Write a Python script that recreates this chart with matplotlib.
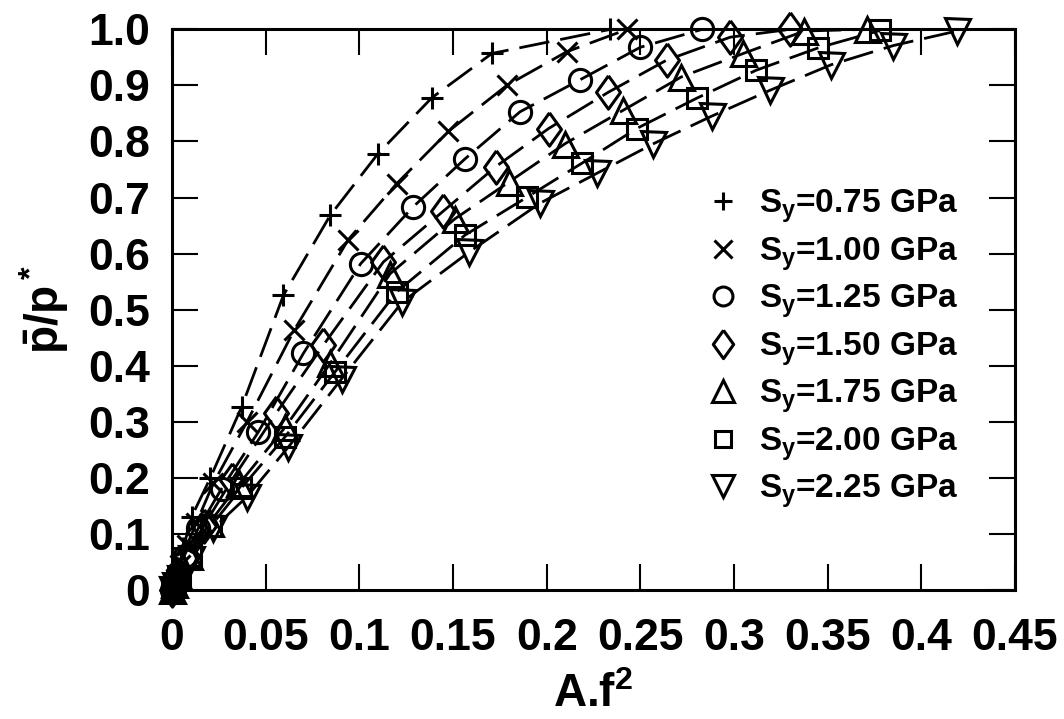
import matplotlib
matplotlib.use("Agg")
import matplotlib.pyplot as plt

plt.rcParams['font.family'] = ['Liberation Sans Narrow', 'Liberation Sans', 'DejaVu Sans']
plt.rcParams['font.weight'] = 'bold'
plt.rcParams['axes.labelweight'] = 'bold'
plt.rcParams['mathtext.fontset'] = 'custom'
plt.rcParams['mathtext.rm'] = 'Liberation Sans:bold'
plt.rcParams['mathtext.bf'] = 'Liberation Sans:bold'
plt.rcParams['mathtext.it'] = 'Liberation Sans:bold'
plt.rcParams['mathtext.default'] = 'bf'

# A.f^2 and p/p* for each yield strength
x_075 = [0, 0.0005, 0.0015, 0.003, 0.006, 0.0105, 0.0203, 0.0372, 0.0595, 0.0844, 0.1099, 0.1387, 0.1708, 0.234]
y_075 = [0, 0.008, 0.02, 0.04, 0.075, 0.131, 0.199, 0.327, 0.526, 0.668, 0.778, 0.878, 0.957, 1.0]

x_100 = [0, 0.0008, 0.002, 0.004, 0.008, 0.013, 0.022, 0.040, 0.0651, 0.0941, 0.120, 0.1475, 0.1787, 0.2107, 0.243]
y_100 = [0, 0.008, 0.02, 0.045, 0.08, 0.12, 0.19, 0.30, 0.463, 0.625, 0.725, 0.818, 0.900, 0.960, 1.0]

x_125 = [0, 0.001, 0.003, 0.007, 0.014, 0.0265, 0.0461, 0.0701, 0.1007, 0.1289, 0.1564, 0.1858, 0.2178, 0.250, 0.283]
y_125 = [0, 0.01, 0.03, 0.06, 0.11, 0.181, 0.282, 0.422, 0.582, 0.684, 0.769, 0.853, 0.910, 0.968, 1.0]

x_150 = [0, 0.001, 0.003, 0.008, 0.017, 0.0319, 0.0555, 0.0808, 0.1128, 0.1449, 0.1728, 0.201, 0.233, 0.264, 0.298, 0.330]
y_150 = [0, 0.01, 0.025, 0.06, 0.115, 0.196, 0.315, 0.437, 0.585, 0.676, 0.755, 0.823, 0.888, 0.945, 0.986, 1.0]

x_175 = [0, 0.001, 0.003, 0.009, 0.020, 0.036, 0.0603, 0.0844, 0.1164, 0.151, 0.180, 0.2098, 0.241, 0.2718, 0.305, 0.3376, 0.371]
y_175 = [0, 0.01, 0.025, 0.06, 0.12, 0.19, 0.29, 0.404, 0.564, 0.662, 0.728, 0.796, 0.856, 0.915, 0.957, 0.997, 1.0]

x_200 = [0, 0.0015, 0.004, 0.010, 0.021, 0.037, 0.0603, 0.087, 0.120, 0.1564, 0.1897, 0.2187, 0.248, 0.280, 0.3118, 0.345, 0.378]
y_200 = [0, 0.01, 0.025, 0.06, 0.115, 0.182, 0.273, 0.389, 0.532, 0.633, 0.701, 0.761, 0.823, 0.877, 0.927, 0.967, 0.998]

x_225 = [0, 0.0015, 0.004, 0.010, 0.022, 0.0399, 0.0621, 0.0906, 0.123, 0.1587, 0.1965, 0.2267, 0.257, 0.288, 0.319, 0.352, 0.385, 0.419]
y_225 = [0, 0.008, 0.02, 0.055, 0.11, 0.166, 0.255, 0.377, 0.514, 0.603, 0.690, 0.743, 0.796, 0.845, 0.891, 0.937, 0.971, 0.997]

labels = ['0.75', '1.00', '1.25', '1.50', '1.75', '2.00', '2.25']
diamond = [(0, 1), (0.72, 0), (0, -1), (-0.72, 0), (0, 1)]
markers = ['+', 'x', 'o', diamond, '^', 's', 'v']
msizes = [16, 15, 16, 24, 18, 14, 18]
xs = [x_075, x_100, x_125, x_150, x_175, x_200, x_225]
ys = [y_075, y_100, y_125, y_150, y_175, y_200, y_225]

xticks = [0, 0.05, 0.1, 0.15, 0.2, 0.25, 0.3, 0.35, 0.4, 0.45]
xticklabels = ['0', '0.05', '0.1', '0.15', '0.2', '0.25', '0.3', '0.35', '0.4', '0.45']
yticks = [0, 0.1, 0.2, 0.3, 0.4, 0.5, 0.6, 0.7, 0.8, 0.9, 1.0]
yticklabels = ['0', '0.1', '0.2', '0.3', '0.4', '0.5', '0.6', '0.7', '0.8', '0.9', '1.0']

fig = plt.figure(figsize=(10.64, 7.19), dpi=100)
ax = fig.add_axes([0.1617, 0.1794, 0.9539 - 0.1617, 0.9592 - 0.1794])

for x, y, m, ms, lab in zip(xs, ys, markers, msizes, labels):
    ax.plot(x, y, color='black', lw=2.0, ls=(0, (11, 4)), clip_on=False)
    ax.plot(x, y, ls='none', marker=m, ms=ms, mfc='none', mec='black', mew=2.2,
            clip_on=False, label='S$_y$=' + lab + ' GPa')

ax.set_xlim(0, 0.45)
ax.set_ylim(0, 1.0)
ax.set_xticks(xticks)
ax.set_xticklabels(xticklabels)
ax.set_yticks(yticks)
ax.set_yticklabels(yticklabels)
ax.tick_params(direction='in', length=19, width=1.5, top=True, right=True, labelsize=32)
ax.tick_params(axis='x', pad=20)
ax.tick_params(axis='y', pad=16)
for sp in ax.spines.values():
    sp.set_linewidth(2.2)

ax.set_xlabel('A.f$^2$', fontsize=33, fontweight='bold', labelpad=10)
ax.set_ylabel(r'$\bar{p}/p^*$', fontsize=33, labelpad=12)

leg = ax.legend(loc='center right', bbox_to_anchor=(0.953, 0.43), frameon=False, fontsize=24,
                handlelength=1.0, handletextpad=0.6, labelspacing=0.3, borderpad=0)
for h in leg.legend_handles:
    h.set_markersize(h.get_markersize() * 0.85)

fig.savefig('out.png', dpi=100)
